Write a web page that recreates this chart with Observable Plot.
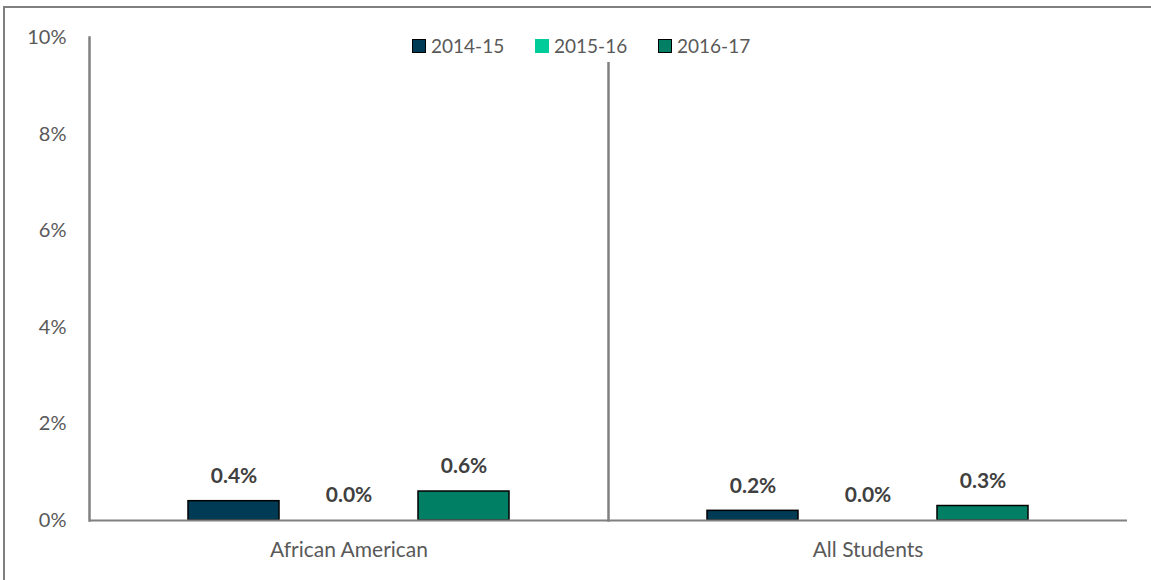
<!DOCTYPE html>
<html>
<head>
<meta charset="utf-8">
<script src="https://cdn.jsdelivr.net/npm/d3@7"></script>
<script src="https://cdn.jsdelivr.net/npm/@observablehq/plot@0.6"></script>
<style>
  html, body { margin: 0; padding: 0; background: #fff; overflow: hidden; }
  #wrap { position: relative; width: 1151px; height: 580px; }
  #border { position: absolute; left: 3px; top: 6px; width: 1170px; height: 600px; border: 2px solid #7f7f7f; box-sizing: border-box; }
  #chart { position: absolute; left: 0; top: 0; }
  #legend { position: absolute; left: 405px; top: 29px; height: 33px; width: 365px; background: #fff;
    font-family: Lato, sans-serif; font-size: 19px; color: #595959; }
  .item { position: absolute; top: 0; height: 33px; display: flex; align-items: center; white-space: nowrap; }
  .sw { width: 14px; height: 14px; margin-right: 5px; box-sizing: border-box; }
</style>
</head>
<body>
<div id="wrap">
  <div id="border"></div>
  <div id="chart"></div>
  <div id="legend"></div>
</div>
<script>
const categories = ["African American", "All Students"];
const years = ["2014-15", "2015-16", "2016-17"];
const africanAmerican = [0.004, 0.000, 0.006];
const allStudents = [0.002, 0.000, 0.003];
const colors = ["#003b55", "#00cc99", "#007f65"];
const legendBorders = ["#000", "none", "#000"];
const yTicks = [0, 0.02, 0.04, 0.06, 0.08, 0.10];

const series = [africanAmerican, allStudents];
const data = categories.flatMap((c, i) => years.map((y, j) => ({category: c, year: y, value: series[i][j]})));

const chart = Plot.plot({
  width: 1151,
  height: 580,
  marginTop: 37,
  marginBottom: 60,
  marginLeft: 89,
  marginRight: 24,
  style: {fontFamily: "Lato, sans-serif", fontSize: "20px", color: "#595959", background: "transparent"},
  fx: {domain: categories, padding: 0, label: null},
  x: {domain: years, axis: null, paddingInner: 0.21, paddingOuter: 0.86},
  y: {domain: [0, 0.1], label: null},
  color: {domain: years, range: colors},
  marks: [
    Plot.axisY({ticks: yTicks, tickFormat: d => (d * 100).toFixed(0) + "%", tickSize: 0, tickPadding: 23,
      fontSize: 20, fill: "#595959", label: null}),
    Plot.axisFx({anchor: "bottom", tickSize: 0, tickPadding: 22, fontSize: 21, fill: "#595959", label: null}),
    Plot.frame({anchor: "left", stroke: "#808080", strokeWidth: 2.5}),
    Plot.barY(data, {fx: "category", x: "year", y: "value", fill: "year", stroke: "#000", strokeWidth: 1.5}),
    Plot.ruleY([0], {stroke: "#808080", strokeWidth: 2}),
    Plot.text(data, {fx: "category", x: "year", y: "value", text: d => (d.value * 100).toFixed(1) + "%",
      dy: -25, fontWeight: "bold", fontSize: 21, fill: "#404040"})
  ]
});
document.getElementById("chart").appendChild(chart);

const legend = document.getElementById("legend");
years.forEach((y, i) => {
  const item = document.createElement("div");
  item.className = "item";
  item.style.left = (7 + i * 123) + "px";
  const sw = document.createElement("div");
  sw.className = "sw";
  sw.style.background = colors[i];
  if (legendBorders[i] !== "none") sw.style.border = "1.5px solid " + legendBorders[i];
  const t = document.createElement("span");
  t.textContent = y;
  item.appendChild(sw);
  item.appendChild(t);
  legend.appendChild(item);
});
</script>
</body>
</html>
